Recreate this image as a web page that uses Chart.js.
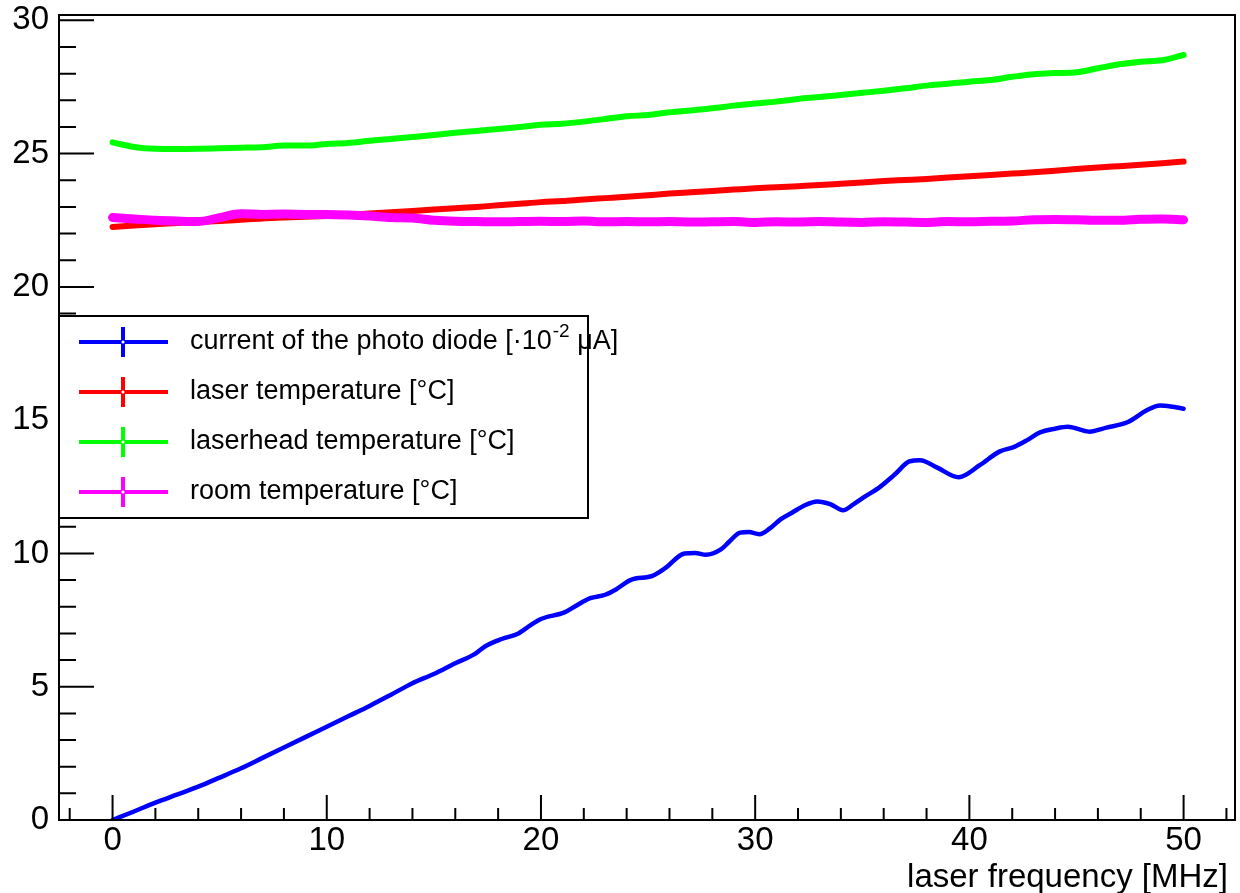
<!DOCTYPE html>
<html>
<head>
<meta charset="utf-8">
<title>laser frequency scan</title>
<script src="https://cdn.jsdelivr.net/npm/chart.js@4/dist/chart.umd.min.js"></script>
<style>
  body { margin: 0; background: #fff; }
  #wrap { width: 1240px; height: 893px; }
</style>
</head>
<body>
<div id="wrap"><canvas id="scan" width="1240" height="893"></canvas></div>
<script>
// photo diode current (x in MHz)
const blueFreq = [0, 1, 2, 3, 4, 5, 6, 7, 8, 9, 10, 11, 12, 13, 14, 15, 16, 16.9, 17.4, 18.2, 18.9, 19.5, 20,
  21.1, 21.6, 22.3, 23, 23.5, 24.2, 25.2, 25.8, 26.7, 27.2, 27.7, 28.4, 28.8, 29.3, 29.7, 30.2, 30.7, 31.2,
  31.7, 32.3, 32.9, 33.5, 34.1, 34.6, 35.1, 35.8, 36.5, 37.2, 37.7, 38.5, 39.5, 40.5, 41.4, 42.1, 42.7, 43.3,
  44.0, 44.6, 45.6, 46.4, 47.4, 48.3, 48.9, 49.5, 50];
const photoCurrent = [0, 0.32, 0.65, 0.95, 1.25, 1.59, 1.94, 2.33, 2.72, 3.11, 3.50, 3.89, 4.28, 4.70, 5.13, 5.48,
  5.88, 6.22, 6.52, 6.80, 6.98, 7.30, 7.54, 7.79, 8.02, 8.32, 8.45, 8.65, 9.01, 9.16, 9.45, 10.0, 10.02, 9.95,
  10.15, 10.45, 10.78, 10.8, 10.72, 10.95, 11.29, 11.52, 11.8, 11.95, 11.85, 11.62, 11.85, 12.12, 12.48, 12.95,
  13.45, 13.5, 13.22, 12.86, 13.32, 13.82, 14.0, 14.25, 14.54, 14.68, 14.75, 14.57, 14.72, 14.93, 15.38, 15.55,
  15.5, 15.43];

// temperatures, one reading per MHz
const tempFreq = [0, 1, 2, 3, 4, 5, 6, 7, 8, 9, 10, 11, 12, 13, 14, 15, 16, 17, 18, 19, 20, 21, 22, 23, 24, 25,
  26, 27, 28, 29, 30, 31, 32, 33, 34, 35, 36, 37, 38, 39, 40, 41, 42, 43, 44, 45, 46, 47, 48, 49, 50];
const laserTemp = [22.25, 22.3, 22.35, 22.4, 22.43, 22.47, 22.52, 22.57, 22.6, 22.63, 22.66, 22.7, 22.75, 22.8,
  22.85, 22.9, 22.95, 23.0, 23.06, 23.12, 23.18, 23.22, 23.28, 23.33, 23.38, 23.44, 23.5, 23.55, 23.6, 23.65,
  23.7, 23.74, 23.78, 23.82, 23.87, 23.92, 23.97, 24.01, 24.05, 24.1, 24.15, 24.2, 24.25, 24.3, 24.36, 24.42,
  24.48, 24.53, 24.58, 24.64, 24.7];
const laserheadTemp = [25.42, 25.25, 25.18, 25.17, 25.18, 25.2, 25.22, 25.24, 25.3, 25.3, 25.36, 25.4, 25.48,
  25.55, 25.62, 25.7, 25.78, 25.85, 25.92, 26.0, 26.08, 26.12, 26.2, 26.3, 26.4, 26.45, 26.55, 26.62, 26.7, 26.8,
  26.88, 26.95, 27.05, 27.12, 27.2, 27.28, 27.36, 27.45, 27.55, 27.62, 27.7, 27.76, 27.88, 27.98, 28.02, 28.05,
  28.2, 28.35, 28.45, 28.5, 28.7];
const roomTemp = [22.6, 22.55, 22.5, 22.47, 22.45, 22.6, 22.74, 22.72, 22.73, 22.72, 22.72, 22.7, 22.66, 22.6,
  22.58, 22.5, 22.46, 22.45, 22.44, 22.45, 22.46, 22.45, 22.47, 22.44, 22.45, 22.44, 22.45, 22.43, 22.44, 22.45,
  22.42, 22.44, 22.43, 22.45, 22.43, 22.42, 22.44, 22.43, 22.42, 22.45, 22.44, 22.46, 22.47, 22.52, 22.53, 22.52,
  22.5, 22.5, 22.54, 22.55, 22.52];

const xMajorTicks = [0, 10, 20, 30, 40, 50];
const xMinorTicks = [-2, 0, 2, 4, 6, 8, 10, 12, 14, 16, 18, 20, 22, 24, 26, 28, 30, 32, 34, 36, 38, 40, 42, 44,
  46, 48, 50, 52];
const yMajorTicks = [0, 5, 10, 15, 20, 25, 30];
const yMinorTicks = [0, 1, 2, 3, 4, 5, 6, 7, 8, 9, 10, 11, 12, 13, 14, 15, 16, 17, 18, 19, 20, 21, 22, 23, 24,
  25, 26, 27, 28, 29, 30];

const xTitle = 'laser frequency [MHz]';
const legendLabels = ['current of the photo diode', 'laser temperature [°C]',
  'laserhead temperature [°C]', 'room temperature [°C]'];
const seriesColors = ['#0000ff', '#ff0000', '#00ff00', '#ff00ff'];

const FONT = '"Liberation Sans", Arial, Helvetica, sans-serif';

const pts = (xs, ys) => xs.map((x, i) => ({ x, y: ys[i] }));

// ROOT-like frame, inner tick marks, axis title and the boxed legend
const rootFrame = {
  id: 'rootFrame',
  afterDatasetsDraw(chart) {
    const { ctx, chartArea: a, scales } = chart;
    const xs = scales.x, ys = scales.y;
    ctx.save();
    ctx.strokeStyle = '#000';
    ctx.lineWidth = 2;
    ctx.strokeRect(a.left, a.top, a.right - a.left, a.bottom - a.top);

    ctx.beginPath();
    xMinorTicks.forEach(v => {
      const px = xs.getPixelForValue(v);
      const len = xMajorTicks.includes(v) ? 25 : 12;
      ctx.moveTo(px, a.bottom); ctx.lineTo(px, a.bottom - len);
    });
    yMinorTicks.forEach(v => {
      const py = ys.getPixelForValue(v);
      const len = yMajorTicks.includes(v) ? 35 : 17;
      ctx.moveTo(a.left, py); ctx.lineTo(a.left + len, py);
    });
    ctx.stroke();

    ctx.fillStyle = '#000';
    ctx.font = '33px ' + FONT;
    ctx.textAlign = 'right';
    ctx.textBaseline = 'alphabetic';
    ctx.fillText(xTitle, 1228, 887);

    // legend
    const bx = a.left, by = 316, bw = 529, bh = 202;
    ctx.fillStyle = '#fff';
    ctx.fillRect(bx, by, bw, bh);
    ctx.strokeRect(bx, by, bw, bh);
    legendLabels.forEach((lab, i) => {
      const ry = 342 + i * 50;
      const c = seriesColors[i];
      ctx.strokeStyle = c;
      ctx.lineWidth = 4;
      ctx.beginPath();
      ctx.moveTo(79, ry); ctx.lineTo(168, ry);
      ctx.moveTo(123, ry - 15); ctx.lineTo(123, ry + 15);
      ctx.stroke();
      ctx.fillStyle = '#fff';
      ctx.beginPath(); ctx.arc(123, ry, 1.5, 0, Math.PI * 2); ctx.fill();

      ctx.fillStyle = '#000';
      ctx.textBaseline = 'middle';
      ctx.textAlign = 'left';
      ctx.font = '27px ' + FONT;
      let tx = 190;
      ctx.fillText(lab, tx, ry);
      if (i === 0) {
        tx += ctx.measureText(lab + ' [·10').width;
        ctx.fillText(' [·10', tx - ctx.measureText(' [·10').width, ry);
        ctx.font = '19px ' + FONT;
        ctx.fillText('-2', tx + 1, ry - 10);
        tx += ctx.measureText('-2').width + 1;
        ctx.font = '27px ' + FONT;
        ctx.fillText(' μA]', tx, ry);
      }
    });
    ctx.restore();
  }
};

new Chart(document.getElementById('scan'), {
  type: 'line',
  data: {
    datasets: [
      { label: legendLabels[0], data: pts(blueFreq, photoCurrent), borderColor: seriesColors[0], borderWidth: 4.5, order: 3 },
      { label: legendLabels[1], data: pts(tempFreq, laserTemp), borderColor: seriesColors[1], borderWidth: 6, order: 2 },
      { label: legendLabels[2], data: pts(tempFreq, laserheadTemp), borderColor: seriesColors[2], borderWidth: 6, order: 1 },
      { label: legendLabels[3], data: pts(tempFreq, roomTemp), borderColor: seriesColors[3], borderWidth: 9, order: 0 },
    ],
  },
  options: {
    responsive: false,
    animation: false,
    layout: { padding: { top: 15, right: 5, left: 0, bottom: 0 } },
    elements: { point: { radius: 0 }, line: { cubicInterpolationMode: 'monotone', borderCapStyle: 'round' } },
    plugins: { legend: { display: false }, tooltip: { enabled: false } },
    scales: {
      x: {
        type: 'linear', min: -2.5, max: 52.4,
        afterFit: s => { s.height = 73; s.paddingLeft = 0; s.paddingRight = 0; },
        afterBuildTicks: s => { s.ticks = xMajorTicks.map(v => ({ value: v })); },
        grid: { display: false, drawTicks: false },
        border: { display: false },
        ticks: { color: '#000', font: { family: FONT, size: 33 }, padding: 1, maxRotation: 0, autoSkip: false },
      },
      y: {
        type: 'linear', min: 0, max: 30.2,
        afterFit: s => { s.width = 59; s.paddingTop = 0; s.paddingBottom = 0; },
        afterBuildTicks: s => { s.ticks = yMajorTicks.map(v => ({ value: v })); },
        grid: { display: false, drawTicks: false },
        border: { display: false },
        ticks: { color: '#000', font: { family: FONT, size: 33 }, padding: 10, autoSkip: false },
      },
    },
  },
  plugins: [rootFrame],
});
</script>
</body>
</html>
